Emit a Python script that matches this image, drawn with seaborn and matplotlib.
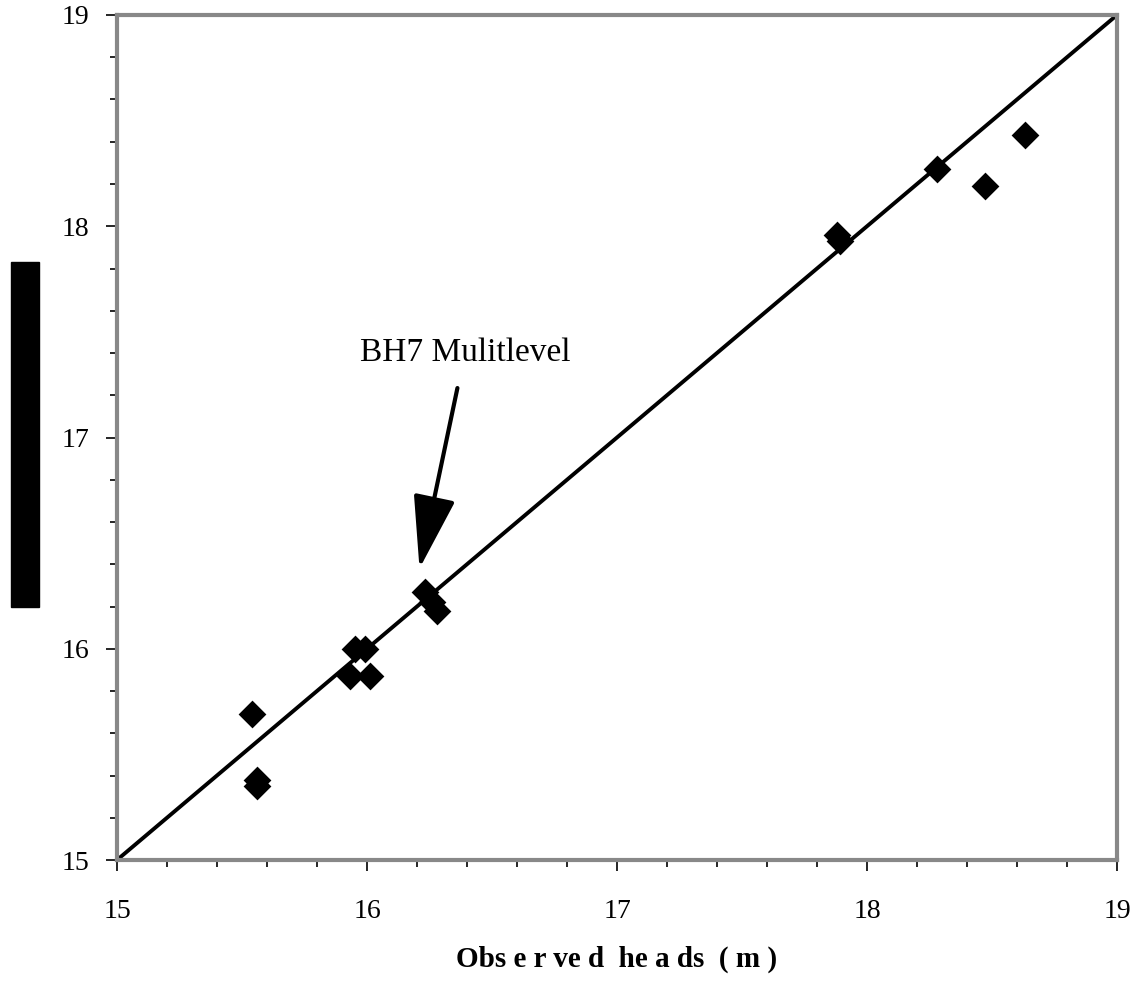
import numpy as np
import pandas as pd
import seaborn as sns
import matplotlib.pyplot as plt
from matplotlib.patches import Rectangle
from matplotlib.ticker import MultipleLocator

# observed vs simulated heads (m)
observed = [15.54, 15.56, 15.56, 15.95, 15.99, 15.93, 16.01,
            16.23, 16.26, 16.28, 17.88, 17.89, 18.28, 18.47, 18.63]
simulated = [15.69, 15.38, 15.35, 16.00, 16.00, 15.87, 15.87,
             16.27, 16.22, 16.18, 17.96, 17.93, 18.27, 18.19, 18.43]
one_to_one = [15, 19]
ticks = [15, 16, 17, 18, 19]

sns.set_style("ticks")
plt.rcParams['font.family'] = ['Liberation Serif', 'DejaVu Serif']
plt.rcParams.update({
    'text.color': 'black',
    'axes.labelcolor': 'black',
    'xtick.color': 'black',
    'ytick.color': 'black',
})

df = pd.DataFrame({'observed': observed, 'simulated': simulated})
line_df = pd.DataFrame({'x': one_to_one, 'y': one_to_one})

fig = plt.figure(figsize=(11.34, 9.84), dpi=100)
ax = fig.add_axes([117 / 1134, 1 - 860 / 984, 1000 / 1134, 845 / 984])

sns.lineplot(data=line_df, x='x', y='y', color='black', linewidth=2.8, ax=ax)
sns.scatterplot(data=df, x='observed', y='simulated', marker='D', s=200,
                color='black', edgecolor='black', linewidth=0, zorder=3, ax=ax)

ax.annotate('BH7 Mulitlevel', xy=(16.21, 16.38), xytext=(15.97, 17.36),
            fontsize=24, ha='left', va='baseline',
            arrowprops=dict(arrowstyle='-|>,head_length=1.9,head_width=0.55',
                            color='black', lw=3, shrinkA=12, shrinkB=0))

ax.set_xlim(15, 19)
ax.set_ylim(15, 19)
ax.set_xticks(ticks)
ax.set_yticks(ticks)
ax.xaxis.set_minor_locator(MultipleLocator(0.2))
ax.yaxis.set_minor_locator(MultipleLocator(0.2))
ax.tick_params(axis='both', which='major', direction='out', length=8, width=1.2,
               labelsize=20)
ax.tick_params(axis='both', which='minor', direction='out', length=5, width=1.2)
ax.tick_params(axis='x', which='major', pad=20)
ax.tick_params(axis='y', which='major', pad=12)

for side in ['left', 'right', 'top', 'bottom']:
    ax.spines[side].set_visible(True)
    ax.spines[side].set_color('#888888')
    ax.spines[side].set_linewidth(3)

ax.set_xlabel('Obs e r ve d  he a ds  ( m )', fontsize=21,
              fontweight='bold', labelpad=16)
ax.set_ylabel('')

# redacted y-axis title
fig.patches.append(Rectangle((11 / 1134, 1 - 607 / 984), 28 / 1134, 345 / 984,
                             transform=fig.transFigure, color='black'))

fig.savefig('out.png', dpi=100)
